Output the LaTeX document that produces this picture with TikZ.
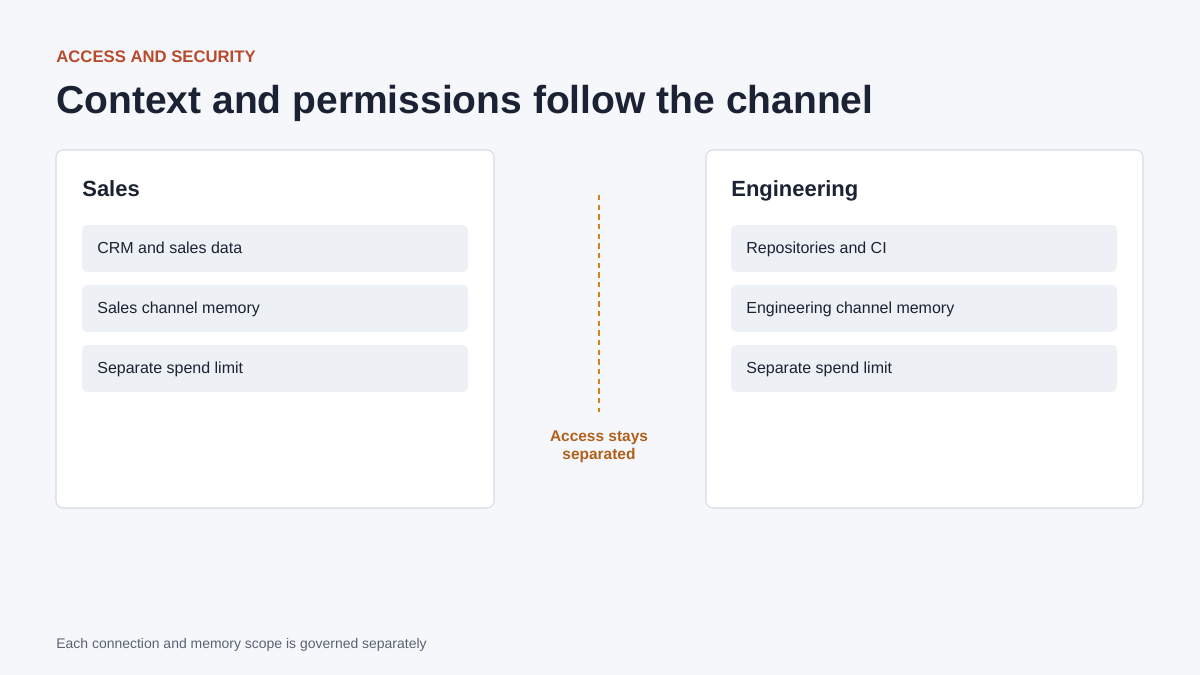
\documentclass[tikz,border=0pt]{standalone}
\usepackage{fontspec}
\setmainfont{Liberation Sans}
\begin{document}
\begin{tikzpicture}[x=0.02cm,y=-0.02cm,
  card/.style={draw=cardline,fill=white,rounded corners=4pt,line width=0.6pt},
  item/.style={fill=itemfill,rounded corners=3pt},
  itemtxt/.style={anchor=base west,inner sep=0pt,font=\fontsize{9.1}{11}\selectfont,text=ink},
  head/.style={anchor=base west,inner sep=0pt,font=\bfseries\fontsize{12.5}{15}\selectfont,text=ink}]
\definecolor{bg}{HTML}{F5F7FB}
\definecolor{cardline}{HTML}{D5DAE3}
\definecolor{itemfill}{HTML}{EDF0F4}
\definecolor{ink}{HTML}{1A2233}
\definecolor{kicker}{HTML}{B94A2C}
\definecolor{dashcol}{HTML}{D4831E}
\definecolor{sepcol}{HTML}{B0601A}
\definecolor{foot}{HTML}{5A6272}
\fill[bg] (0,0) rectangle (1200,675);
\useasboundingbox (0,0) rectangle (1200,675);
\node[anchor=base west,inner sep=0pt,font=\bfseries\fontsize{9.5}{10}\selectfont,text=kicker] (kick) at (56,63) {ACCESS AND SECURITY};
\node[anchor=base west,inner sep=0pt,font=\bfseries\fontsize{22.2}{26}\selectfont,text=ink] (title) at (56,114) {Context and permissions follow the channel};
% left card
\draw[card] (56,150) rectangle (494,508);
\node[head] (sales) at (82,197) {Sales};
\fill[item] (82,225) rectangle (468,272); \node[itemtxt] (s1) at (97,254) {CRM and sales data};
\fill[item] (82,285) rectangle (468,332); \node[itemtxt] (s2) at (97,314) {Sales channel memory};
\fill[item] (82,345) rectangle (468,392); \node[itemtxt] (s3) at (97,374) {Separate spend limit};
% right card
\draw[card] (706,150) rectangle (1143,508);
\node[head] (eng) at (731,197) {Engineering};
\fill[item] (731,225) rectangle (1117,272); \node[itemtxt] (e1) at (746,254) {Repositories and CI};
\fill[item] (731,285) rectangle (1117,332); \node[itemtxt] (e2) at (746,314) {Engineering channel memory};
\fill[item] (731,345) rectangle (1117,392); \node[itemtxt] (e3) at (746,374) {Separate spend limit};
% separator
\coordinate (dtop) at (599,195);
\coordinate (dbot) at (599,412);
\draw[draw=dashcol,line width=1.6pt,dash pattern=on 3pt off 2.5pt] (dtop) -- (dbot);
\node[align=center,font=\bfseries\fontsize{8.8}{10.3}\selectfont,text=sepcol] (sep) at (599,447) {Access stays\\separated};
\node[anchor=base west,inner sep=0pt,font=\fontsize{7.95}{10}\selectfont,text=foot] (foot) at (56,648) {Each connection and memory scope is governed separately};
\end{tikzpicture}
\end{document}
